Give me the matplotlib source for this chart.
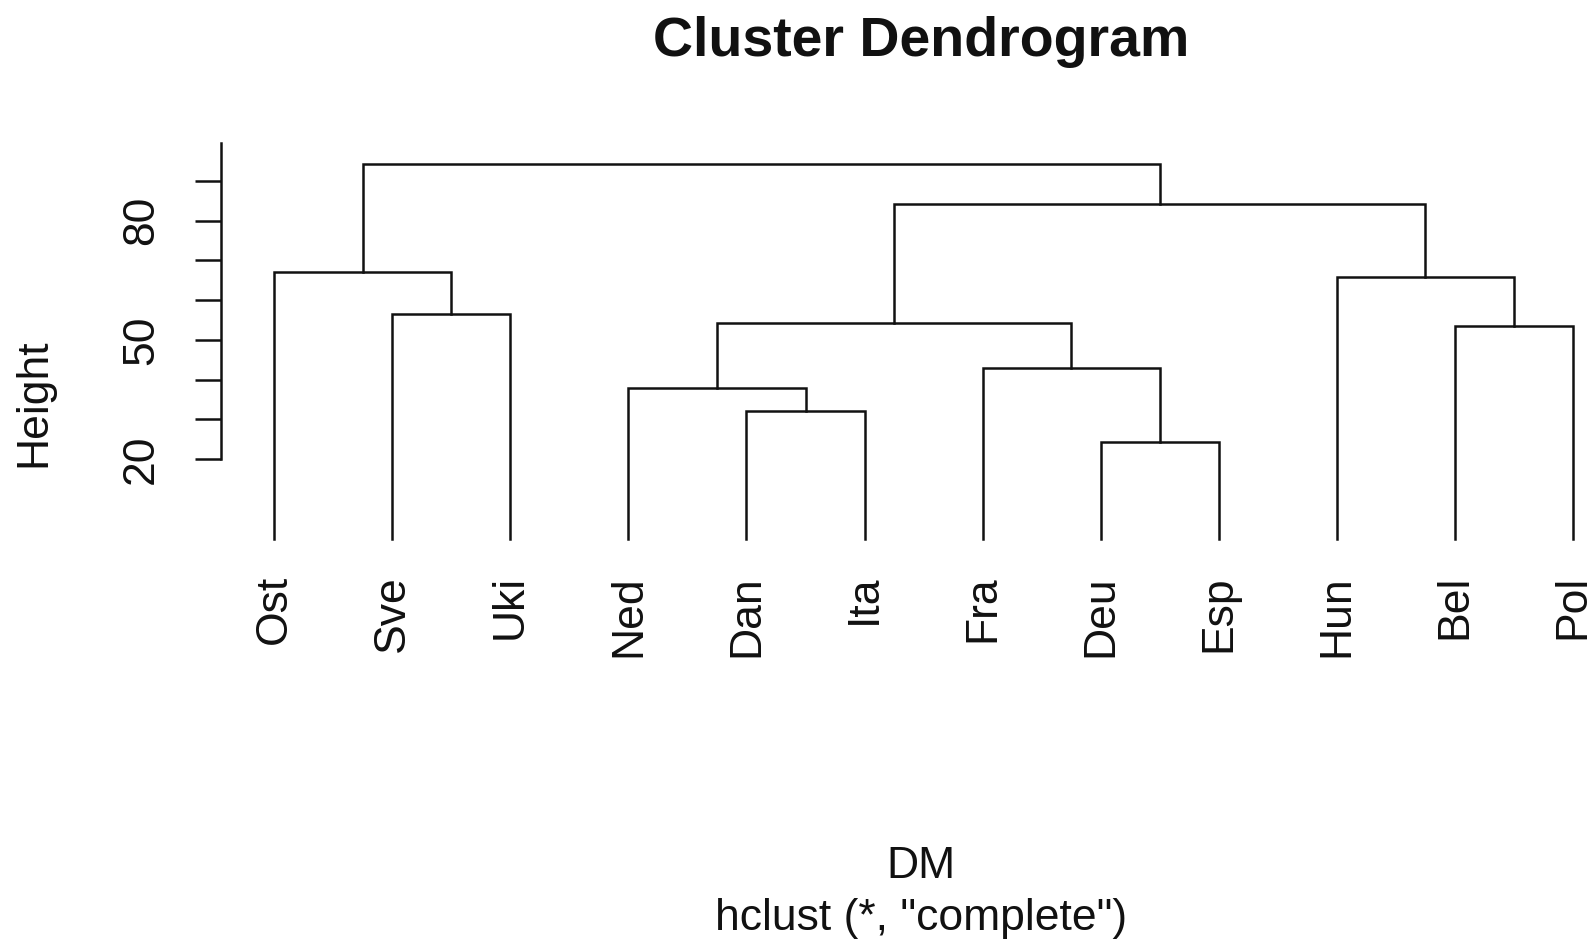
import matplotlib.pyplot as plt

plt.rcParams['font.family'] = ['Liberation Sans', 'DejaVu Sans']

# leaves in plotting order
labels = ["Ost", "Sve", "Uki", "Ned", "Dan", "Ita", "Fra", "Deu", "Esp", "Hun", "Bel", "Pol"]
# hclust-style merge table: negative = leaf (1-based position), positive = earlier merge step
merge_left = [-8, -5, -4, -7, -11, 3, -2, -10, -1, 6, 9]
merge_right = [-9, -6, 2, 1, -12, 4, -3, 5, 7, 8, 10]
merge_height = [24.3, 32.2, 38.0, 42.9, 53.6, 54.3, 56.4, 65.8, 67.0, 84.3, 94.3]
y_ticks = [20, 30, 40, 50, 60, 70, 80, 90]
y_labeled = [20, 50, 80]

W, H = 1587, 941
fig = plt.figure(figsize=(W / 100, H / 100), dpi=100)
ax = fig.add_axes([221 / W, (H - 538.8) / H, 1 - 221 / W, 397.7 / H])
ax.set_xlim(0.5485, 12.12)
ax.set_ylim(0, 100)

lw = 1.8
col = '#111111'


def node_pos(k, xs):
    if k < 0:
        return -k, 0.0
    return xs[k - 1], merge_height[k - 1]


xs = []
for left, right, h in zip(merge_left, merge_right, merge_height):
    xl, yl = node_pos(left, xs)
    xr, yr = node_pos(right, xs)
    ax.plot([xl, xl, xr, xr], [yl, h, h, yr], color=col, lw=lw,
            solid_joinstyle='miter', clip_on=False)
    xs.append((xl + xr) / 2)

for s in ['top', 'right', 'bottom']:
    ax.spines[s].set_visible(False)
ax.spines['left'].set_bounds(20, 99.4)
ax.spines['left'].set_linewidth(lw)
ax.spines['left'].set_color(col)

ax.set_yticks(y_ticks)
ax.set_yticklabels([str(v) if v in y_labeled else '' for v in y_ticks],
                   rotation=90, rotation_mode='anchor', ha='center', va='baseline',
                   fontsize=32, color=col)
ax.tick_params(axis='y', length=19, width=lw, color=col, pad=30)

ax.set_xticks(range(1, len(labels) + 1))
ax.set_xticklabels(labels, rotation=90, va='top', ha='center', fontsize=32, color=col)
ax.tick_params(axis='x', length=0, pad=26)

fig.text(921 / W, 1 - 56.5 / H, "Cluster Dendrogram", ha='center', va='baseline',
         fontsize=40, fontweight='bold', color=col)
fig.text(45 / W, 1 - 403 / H, "Height", rotation=90, rotation_mode='anchor',
         ha='center', va='baseline', fontsize=32, color=col)
fig.text(921 / W, 1 - 878 / H, "DM", ha='center', va='baseline', fontsize=32, color=col)
fig.text(921 / W, 1 - 930 / H, 'hclust (*, "complete")', ha='center', va='baseline',
         fontsize=32, color=col)

fig.savefig("out.png", dpi=100)
